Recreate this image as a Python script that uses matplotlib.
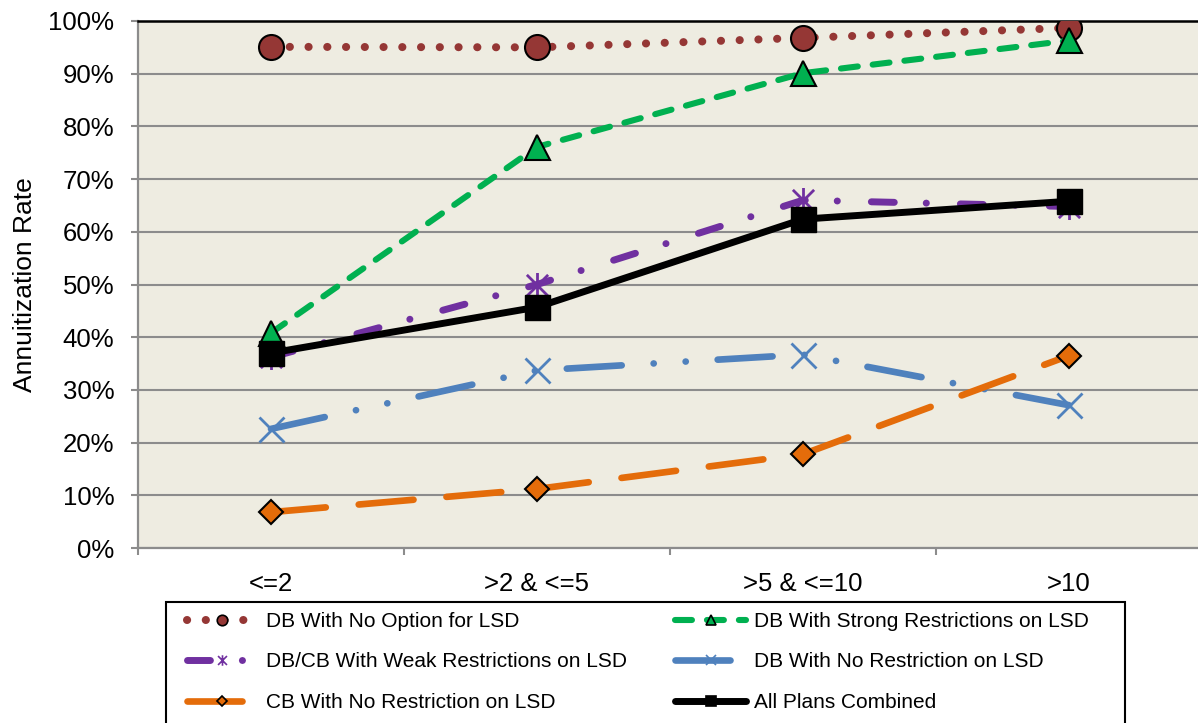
import matplotlib.pyplot as plt
import numpy as np
from matplotlib.path import Path
from matplotlib.patches import Rectangle
from matplotlib.lines import Line2D

plt.rcParams['font.family'] = ['Liberation Sans', 'DejaVu Sans']
plt.rcParams['lines.scale_dashes'] = False

# annuitization rate (%) by years of service group
categories = ['<=2', '>2 & <=5', '>5 & <=10', '>10']
db_no_option = [95.1, 95.0, 96.8, 98.7]
db_strong = [40.8, 76.1, 90.1, 96.3]
dbcb_weak = [36.2, 50.0, 66.0, 64.8]
db_no_restriction = [22.6, 33.7, 36.7, 27.1]
cb_no_restriction = [6.8, 11.2, 17.8, 36.5]
all_plans = [37.0, 45.7, 62.4, 65.8]

# star marker: vertical bar plus an x
star = Path([(0, -1), (0, 1), (-0.85, -0.85), (0.85, 0.85), (-0.85, 0.85), (0.85, -0.85)],
            [Path.MOVETO, Path.LINETO, Path.MOVETO, Path.LINETO, Path.MOVETO, Path.LINETO])

series = [
    dict(label='DB With No Option for LSD', y=db_no_option, color='#953735',
         dashes=(0.1, 13.4), lw=5.8, marker='o', ms=18, mfc='#953735', mew=1.5),
    dict(label='DB With Strong Restrictions on LSD', y=db_strong, color='#00B050',
         dashes=(12.2, 10.8), lw=4.4, marker='^', ms=18, mfc='#00B050', mew=1.5),
    dict(label='DB/CB With Weak Restrictions on LSD', y=dbcb_weak, color='#7030A0',
         dashes=(16.5, 23, 0.1, 24.5), lw=5.0, marker=star, ms=18, mfc='none', mew=2.0),
    dict(label='DB With No Restriction on LSD', y=db_no_restriction, color='#4F81BD',
         dashes=(39.6, 23, 0.1, 23, 0.1, 23), lw=4.8, marker='x', ms=18, mfc='none', mew=2.0),
    dict(label='CB With No Restriction on LSD', y=cb_no_restriction, color='#E46C0A',
         dashes=(39.6, 23.8), lw=4.8, marker='D', ms=12.5, mfc='#E46C0A', mew=1.5),
    dict(label='All Plans Combined', y=all_plans, color='black',
         dashes=None, lw=5.0, marker='s', ms=18, mfc='black', mew=1.0),
]

fig = plt.figure(figsize=(11.98, 7.23), dpi=100)
ax = fig.add_axes([138 / 1198, 1 - 548 / 723, 1064 / 1198, 527 / 723])
ax.set_facecolor('#EEECE1')

x = np.arange(1, len(categories) + 1)
handles = []
for k, s in enumerate(series):
    ls = '-' if s['dashes'] is None else (0, s['dashes'])
    mec = s['color'] if s['mfc'] == 'none' else 'black'
    ax.plot(x, s['y'], color=s['color'], lw=s['lw'], linestyle=ls,
            dash_capstyle='round', solid_capstyle='round', solid_joinstyle='round',
            dash_joinstyle='round', zorder=3 + k)
    ax.plot(x, s['y'], linestyle='none', marker=s['marker'], ms=s['ms'],
            mfc=s['mfc'], mec=mec, mew=s['mew'], zorder=3.5 + k)
    handles.append(Line2D([], [], color=s['color'], lw=s['lw'], linestyle=ls,
                          dash_capstyle='round', solid_capstyle='round',
                          marker=s['marker'], ms=s['ms'] * 0.42, mfc=s['mfc'],
                          mec=mec, mew=1.2))

ax.set_xlim(0.5, len(categories) + 0.5)
ax.set_ylim(0, 100)
ax.set_yticks(np.arange(0, 101, 10))
ax.set_yticklabels([f'{v}%' for v in range(0, 101, 10)])
ax.set_xticks(np.arange(0.5, len(categories) + 1, 1))
ax.set_xticklabels([])
ax.set_xticks(x, minor=True)
ax.set_xticklabels(categories, minor=True)
ax.tick_params(axis='y', which='major', length=5, width=1.5, color='#8C8C8C',
               labelsize=18.5, pad=12)
ax.tick_params(axis='x', which='major', length=5, width=1.5, color='#8C8C8C')
ax.tick_params(axis='x', which='minor', length=0, labelsize=18.5, pad=17)
ax.grid(axis='y', color='#8C8C8C', lw=1.5)
ax.set_axisbelow(True)
for side in ['left', 'bottom']:
    ax.spines[side].set_color('#8C8C8C')
    ax.spines[side].set_linewidth(1.6)
ax.spines['top'].set_color('black')
ax.spines['top'].set_linewidth(1.8)
ax.spines['right'].set_visible(False)
ax.set_ylabel('Annuitization Rate', fontsize=19, labelpad=8)

# legend box reaching the bottom edge of the figure
fig.add_artist(Rectangle((166 / 1198, -0.02), 959 / 1198, 121 / 723 + 0.02,
                         transform=fig.transFigure, facecolor='white',
                         edgecolor='black', lw=1.5))
order = [0, 2, 4, 1, 3, 5]
fig.legend([handles[i] for i in order], [series[i]['label'] for i in order],
           ncol=2, loc='upper left', bbox_to_anchor=(187 / 1198, 1 - 612 / 723),
           frameon=False, fontsize=15, numpoints=1, handlelength=3.4,
           handletextpad=0.4, columnspacing=2.3, labelspacing=1.03, borderpad=0,
           borderaxespad=0)

fig.savefig('out.png', dpi=100)
